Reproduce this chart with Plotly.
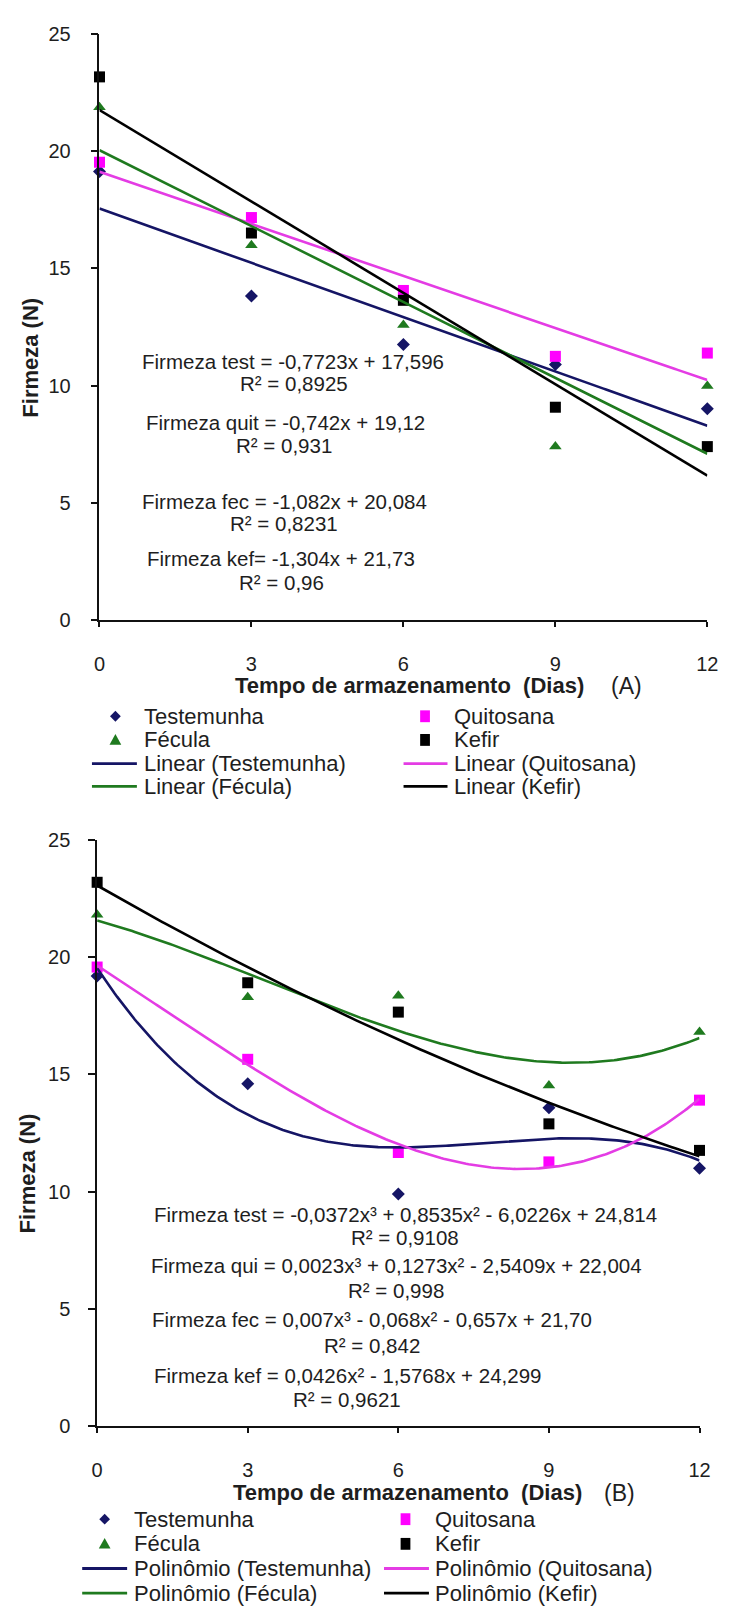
import numpy as np
import plotly.graph_objects as go

W, H = 732, 1616

# ---------------- data ----------------
dias = [0, 3, 6, 9, 12]
series_names = ["Testemunha", "Quitosana", "Fécula", "Kefir"]

# Panel A (linear trend lines)
a_testemunha = [19.13, 13.82, 11.75, 10.90, 9.01]
a_quitosana = [19.53, 17.17, 14.06, 11.25, 11.39]
a_fecula = [21.88, 15.99, 12.59, 7.40, 9.99]
a_kefir = [23.17, 16.51, 13.64, 9.08, 7.40]

# Panel B (polynomial trend lines)
b_testemunha = [19.19, 14.60, 9.90, 13.58, 11.00]
b_quitosana = [19.57, 15.64, 11.67, 11.27, 13.90]
b_fecula = [21.80, 18.28, 18.35, 14.52, 16.80]
b_kefir = [23.18, 18.90, 17.65, 12.89, 11.76]
b_degrees = [3, 3, 3, 2]

y_ticks = [0, 5, 10, 15, 20, 25]
x_ticks = [0, 3, 6, 9, 12]

a_equations = ["Firmeza test = -0,7723x + 17,596", "R² = 0,8925",
               "Firmeza quit = -0,742x + 19,12", "R² = 0,931",
               "Firmeza fec = -1,082x + 20,084", "R² = 0,8231",
               "Firmeza kef= -1,304x + 21,73", "R² = 0,96"]
b_equations = ["Firmeza test = -0,0372x³ + 0,8535x² - 6,0226x + 24,814", "R² = 0,9108",
               "Firmeza qui = 0,0023x³ + 0,1273x² - 2,5409x + 22,004", "R² = 0,998",
               "Firmeza fec = 0,007x³ - 0,068x² - 0,657x + 21,70", "R² = 0,842",
               "Firmeza kef = 0,0426x² - 1,5768x + 24,299", "R² = 0,9621"]
a_trend_labels = ["Linear (Testemunha)", "Linear (Quitosana)", "Linear (Fécula)", "Linear (Kefir)"]
b_trend_labels = ["Polinômio (Testemunha)", "Polinômio (Quitosana)", "Polinômio (Fécula)", "Polinômio (Kefir)"]
x_title = "Tempo de armazenamento  (Dias)"
y_title = "Firmeza (N)"

# ---------------- styles ----------------
FONT = "Liberation Sans, Arial, sans-serif"
TXT = "#1e1e1e"
marker_colors = ["#151565", "#ff00ff", "#1f7a1f", "#000000"]
line_colors = ["#151565", "#e43ce4", "#1f7a1f", "#000000"]
symbols = ["diamond", "square", "triangle-up", "square"]
msizes = [10, 11, 11, 11]


def px(x):
    return x / W


def py(y):
    return 1 - y / H


fig = go.Figure()

panels = [
    dict(xa="x", ya="y", data=[a_testemunha, a_quitosana, a_fecula, a_kefir], deg=[1, 1, 1, 1]),
    dict(xa="x2", ya="y2", data=[b_testemunha, b_quitosana, b_fecula, b_kefir], deg=b_degrees),
]

xfit = np.linspace(0, 12, 241)
for p in panels:
    for i, ys in enumerate(p["data"]):
        fig.add_trace(go.Scatter(
            x=dias, y=ys, mode="markers", name=series_names[i], showlegend=False,
            xaxis=p["xa"], yaxis=p["ya"], cliponaxis=False,
            marker=dict(symbol=symbols[i], size=msizes[i], color=marker_colors[i], line=dict(width=0))))
    for i, ys in enumerate(p["data"]):
        coef = np.polyfit(dias, ys, p["deg"][i])
        fig.add_trace(go.Scatter(
            x=xfit, y=np.polyval(coef, xfit), mode="lines", showlegend=False,
            xaxis=p["xa"], yaxis=p["ya"], cliponaxis=False,
            line=dict(color=line_colors[i], width=2.6)))

axis_common = dict(showgrid=False, zeroline=False, showline=True, linecolor="#111", linewidth=1.6,
                   ticks="outside", tickcolor="#111", tickwidth=1.6,
                   tickfont=dict(family=FONT, size=20, color=TXT))

# Panel geometry in pixels
geo = {
    "A": dict(x0=95.7, x1=718.0, y0=617.5, y1=23.3),
    "B": dict(x0=93.3, x1=710.0, y0=1435.0, y1=840.0),
}

fig.update_layout(
    width=W, height=H, margin=dict(l=0, r=0, t=0, b=0),
    paper_bgcolor="white", plot_bgcolor="white", showlegend=False,
    xaxis=dict(domain=[px(geo["A"]["x0"]), px(geo["A"]["x1"])], range=[0, 12], tickvals=x_ticks,
               anchor="y", ticklen=5, ticklabelstandoff=20, **axis_common),
    yaxis=dict(domain=[py(geo["A"]["y0"]), py(geo["A"]["y1"])], range=[0, 25], tickvals=y_ticks,
               anchor="x", ticklen=7, ticklabelstandoff=16, **axis_common),
    xaxis2=dict(domain=[px(geo["B"]["x0"]), px(geo["B"]["x1"])], range=[0, 12], tickvals=x_ticks,
                anchor="y2", ticklen=5, ticklabelstandoff=20, **axis_common),
    yaxis2=dict(domain=[py(geo["B"]["y0"]), py(geo["B"]["y1"])], range=[0, 25], tickvals=y_ticks,
                anchor="x2", ticklen=7, ticklabelstandoff=14, **axis_common),
)

ann = []
shapes = []


def text(x, y, s, size=20.5, bold=False, xanchor="center", angle=0):
    ann.append(dict(x=px(x), y=py(y), xref="paper", yref="paper", text=(f"<b>{s}</b>" if bold else s),
                    showarrow=False, xanchor=xanchor, yanchor="middle", textangle=angle,
                    font=dict(family=FONT, size=size, color=TXT)))


# equations
a_eq_pos = [(294, 355), (295, 378), (286, 417), (285, 440), (285, 497), (285, 520), (282, 555), (282, 579)]
b_eq_pos = [(408.5, 1220), (408, 1243), (400, 1272), (399, 1297), (375, 1327), (375, 1353), (349.5, 1383), (349, 1408)]
for s, (x, y) in zip(a_equations, a_eq_pos):
    text(x, y, s)
for s, (x, y) in zip(b_equations, b_eq_pos):
    text(x, y, s)

# axis titles
text(232, 684, x_title, size=22, bold=True, xanchor="left")
text(635, 684, "(A)", size=23)
text(230, 1502, x_title, size=22, bold=True, xanchor="left")
text(628, 1502, "(B)", size=23)
text(25, 351, y_title, size=22, bold=True, angle=-90)
text(22, 1178, y_title, size=22, bold=True, angle=-90)


# legends (drawn manually)
def marker_shape(kind, cx, cy, color):
    if kind == "diamond":
        r = 5.5
        path = f"M{px(cx)},{py(cy - r)} L{px(cx + r)},{py(cy)} L{px(cx)},{py(cy + r)} L{px(cx - r)},{py(cy)} Z"
        shapes.append(dict(type="path", xref="paper", yref="paper", path=path, fillcolor=color, line=dict(width=0)))
    elif kind == "triangle-up":
        r = 6
        path = f"M{px(cx - r)},{py(cy + r * 0.8)} L{px(cx + r)},{py(cy + r * 0.8)} L{px(cx)},{py(cy - r)} Z"
        shapes.append(dict(type="path", xref="paper", yref="paper", path=path, fillcolor=color, line=dict(width=0)))
    else:
        r = 5
        shapes.append(dict(type="rect", xref="paper", yref="paper", x0=px(cx - r), x1=px(cx + r),
                           y0=py(cy + r + 1), y1=py(cy - r - 1), fillcolor=color, line=dict(width=0)))


def legend(rows, cols, trend_labels):
    grid = [(0, 0), (1, 0), (0, 1), (1, 1)]
    for i, (c, r) in enumerate(grid):
        mx, tx, l0, l1 = cols[c]
        marker_shape(symbols[i], mx, rows[r], marker_colors[i])
        text(tx, rows[r], series_names[i], size=22, xanchor="left")
        shapes.append(dict(type="line", xref="paper", yref="paper", x0=px(l0), x1=px(l1),
                           y0=py(rows[r + 2]), y1=py(rows[r + 2]), line=dict(color=line_colors[i], width=2.8)))
        text(tx, rows[r + 2], trend_labels[i], size=22, xanchor="left")


legend([715, 739, 763, 786], [(112, 139, 88, 134), (429, 457, 407, 452)], a_trend_labels)
legend([1529, 1554, 1579, 1604], [(101, 129, 78, 124), (409, 437, 387, 433)], b_trend_labels)

fig.update_layout(annotations=ann, shapes=shapes)
fig.write_html("out.html")
